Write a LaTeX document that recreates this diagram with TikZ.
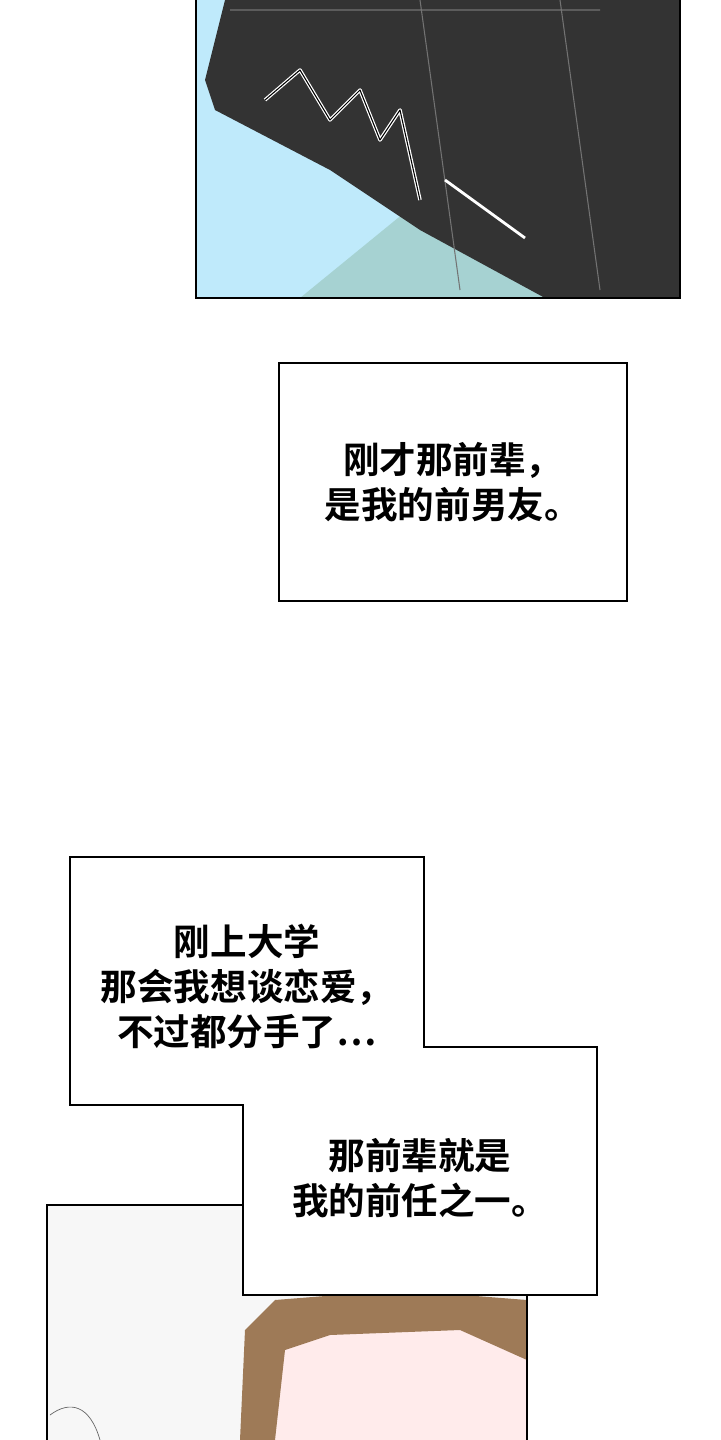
\documentclass[tikz,border=0pt]{standalone}
\usepackage{fontspec}
\newfontfamily\cjk{Noto Sans CJK SC}[BoldFont=* Bold]
\begin{document}
\begin{tikzpicture}[x=0.05cm,y=-0.05cm,
  txt/.style={font=\cjk\bfseries\fontsize{52}{64}\selectfont,align=center,inner sep=0pt},
  frame/.style={draw=black,line width=2.2pt}]
\useasboundingbox (0,0) rectangle (720,1440);
\fill[white] (0,0) rectangle (720,1440);
% top panel
\fill[cyan!25!white] (196,0) rectangle (680,298);
\fill[teal!35!white] (300,298) -- (420,200) -- (560,298) -- cycle;
\fill[black!80] (205,80) -- (225,0) -- (680,0) -- (680,298) -- (545,298) -- (420,230) -- (330,170) -- (215,110) -- cycle;
\draw[black!55,line width=1.5pt] (230,10) -- (600,10) (420,0) -- (460,290) (560,0) -- (600,290);
\draw[white,line width=5pt,line join=round] (265,100) -- (300,70) -- (330,120) -- (360,90) -- (380,140) -- (400,110) -- (420,200);
\draw[black,line width=1.5pt,line join=round] (265,100) -- (300,70) -- (330,120) -- (360,90) -- (380,140) -- (400,110) -- (420,200);
\draw[white,line width=4pt] (445,180) -- (525,238);
\draw[frame] (196,0) -- (196,298) -- (680,298) -- (680,0);
% box 1
\node[frame,fill=white,minimum width=348*0.05cm,minimum height=238*0.05cm,anchor=north west,inner sep=0pt] (b1) at (278,362) {};
\node[txt] (t1) at (b1.center) {刚才那前辈，\\是我的前男友。};
% bottom panel
\fill[black!3] (47,1205) rectangle (527,1440);
\fill[red!8!white] (270,1330) rectangle (527,1440);
\fill[brown!70!black!80] (240,1440) -- (245,1330) -- (275,1300) -- (400,1290) -- (527,1300) -- (527,1360) -- (460,1330) -- (330,1335) -- (285,1350) -- (275,1440) -- cycle;
\draw[black!60,line width=1pt] (50,1415) .. controls (70,1400) and (90,1405) .. (100,1440);
\draw[frame] (47,1440) -- (47,1205) -- (527,1205) -- (527,1440);
% box 2 merged
\draw[frame,fill=white] (70,857) -- (424,857) -- (424,1047) -- (597,1047) -- (597,1295) -- (243,1295) -- (243,1105) -- (70,1105) -- cycle;
\coordinate (c2a) at (247,986);
\coordinate (c2b) at (420,1178);
\node[txt] (t2) at (c2a) {刚上大学\\那会我想谈恋爱，\\不过都分手了…};
\node[txt] (t3) at (c2b) {那前辈就是\\我的前任之一。};
\end{tikzpicture}
\end{document}
